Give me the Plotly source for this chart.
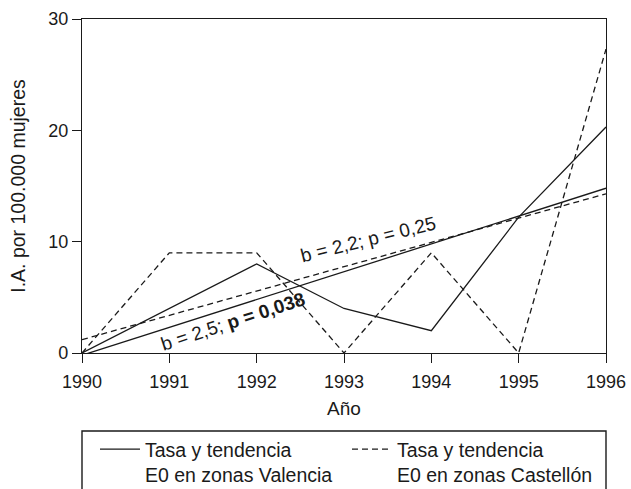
import plotly.graph_objects as go

years = [1990, 1991, 1992, 1993, 1994, 1995, 1996]
valencia = [0, 4, 8, 4, 2, 12.2, 20.3]
castellon = [0, 9, 9, 0, 9, 0, 27.3]
trend_years = [1990, 1996]
valencia_trend = [-0.2, 14.8]
castellon_trend = [1.2, 14.3]
legend_names = ["Tasa y tendencia<br>E0 en zonas Valencia",
                "Tasa y tendencia<br>E0 en zonas Castellón"]
y_ticks = [0, 10, 20, 30]

FONT = "Liberation Sans, Arial, sans-serif"
INK = "#1a1a1a"
DASH = "6px,4px"

fig = go.Figure()
fig.add_trace(go.Scatter(x=years, y=valencia, mode="lines", name=legend_names[0],
                         line=dict(color=INK, width=1.3), legend="legend"))
fig.add_trace(go.Scatter(x=trend_years, y=valencia_trend, mode="lines", showlegend=False,
                         line=dict(color=INK, width=1.3)))
fig.add_trace(go.Scatter(x=years, y=castellon, mode="lines", name=legend_names[1],
                         line=dict(color=INK, width=1.3, dash=DASH), legend="legend2"))
fig.add_trace(go.Scatter(x=trend_years, y=castellon_trend, mode="lines", showlegend=False,
                         line=dict(color=INK, width=1.3, dash=DASH)))

fig.add_annotation(x=1993.27, y=10.2, text="b = 2,2; p = 0,25", textangle=-14,
                   showarrow=False, font=dict(size=19, color=INK, family=FONT))
fig.add_annotation(x=1991.73, y=2.8, text="b = 2,5; <b>p = 0,038</b>", textangle=-18,
                   showarrow=False, font=dict(size=19, color=INK, family=FONT))

# legend frame
fig.add_shape(type="rect", xref="paper", yref="paper", x0=0, x1=1, y0=-0.2335, y1=-0.6,
              line=dict(color=INK, width=1.4), fillcolor="rgba(0,0,0,0)")

leg_common = dict(orientation="v", yanchor="top", xanchor="left", valign="top",
                  bgcolor="rgba(0,0,0,0)", borderwidth=0,
                  font=dict(size=19.5, family=FONT, color=INK), itemwidth=40)

fig.update_layout(
    width=631, height=489,
    margin=dict(l=82, r=25, t=19, b=136, autoexpand=False),
    paper_bgcolor="white", plot_bgcolor="white",
    font=dict(family=FONT, size=19, color=INK),
    showlegend=True,
    legend=dict(x=0.0248, y=-0.2305, **leg_common),
    legend2=dict(x=0.5057, y=-0.2305, **leg_common),
)
fig.update_xaxes(range=[1990, 1996], tickvals=years, ticks="outside", ticklen=9,
                 tickcolor=INK, showline=True, linecolor=INK, linewidth=1.3, mirror=True,
                 showgrid=False, zeroline=False,
                 title=dict(text="Año", standoff=10, font=dict(size=19)),
                 tickfont=dict(size=18), ticklabelstandoff=3)
fig.update_yaxes(range=[0, 30], tickvals=y_ticks, ticks="outside", ticklen=9,
                 tickcolor=INK, showline=True, linecolor=INK, linewidth=1.3, mirror=True,
                 showgrid=False, zeroline=False,
                 title=dict(text="I.A. por 100.000 mujeres", standoff=17, font=dict(size=19.5)),
                 tickfont=dict(size=18))

fig.write_html("out.html", config={"displayModeBar": False},
               post_script="document.body.style.margin='0';")
